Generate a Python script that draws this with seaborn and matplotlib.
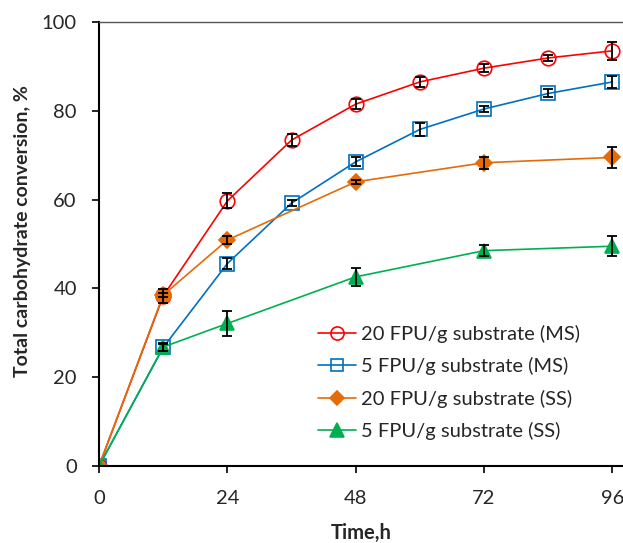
import matplotlib
matplotlib.use("Agg")
import matplotlib.pyplot as plt
import seaborn as sns
import pandas as pd
import numpy as np

sns.set_theme(style="ticks")
plt.rcParams['font.family'] = ['Lato', 'DejaVu Sans']

# Data
t_ms = [0, 12, 24, 36, 48, 60, 72, 84, 96]
ms20 = [0, 38.3, 59.7, 73.4, 81.5, 86.5, 89.6, 91.9, 93.5]
ms20_err = [0, 1.6, 1.7, 1.3, 1.2, 1.2, 0.9, 0.75, 2.0]
ms5 = [0, 26.7, 45.6, 59.2, 68.5, 75.8, 80.4, 83.9, 86.5]
ms5_err = [0, 0.8, 1.2, 0.6, 1.0, 1.5, 0.6, 0.9, 1.3]
t_ss = [0, 12, 24, 48, 72, 96]
ss20 = [0, 38.5, 50.9, 64.0, 68.3, 69.5]
ss20_err = [0, 0.5, 1.0, 0.5, 1.3, 2.3]
ss5 = [0, 26.8, 32.1, 42.6, 48.5, 49.5]
ss5_err = [0, 0.8, 2.8, 2.1, 1.3, 2.3]

labels = ["20 FPU/g substrate (MS)", "5 FPU/g substrate (MS)",
          "20 FPU/g substrate (SS)", "5 FPU/g substrate (SS)"]
x_ticks = [0, 24, 48, 72, 96]
y_ticks = [0, 20, 40, 60, 80, 100]

series = [
    (t_ms, ms20, ms20_err, labels[0], "#FF0000", "o", "none", 10.5),
    (t_ms, ms5, ms5_err, labels[1], "#0070C0", "s", "none", 10),
    (t_ss, ss20, ss20_err, labels[2], "#E36C09", "D", "#E36C09", 8.5),
    (t_ss, ss5, ss5_err, labels[3], "#00B050", "^", "#00B050", 10.5),
]
legend_ms = [9.5, 9, 7.5, 10]

fig = plt.figure(figsize=(6.23, 5.43), dpi=100)
ax = fig.add_axes([0.159, 0.1418, 0.841, 0.8177])

for i, (t, y, e, lab, col, mk, fc, ms) in enumerate(series):
    df = pd.DataFrame({"t": t, "y": y})
    sns.lineplot(data=df, x="t", y="y", ax=ax, color=col, lw=1.2,
                 marker=mk, markersize=ms, markerfacecolor=fc,
                 markeredgecolor=col, markeredgewidth=1.2, label=lab,
                 zorder=3 + i)
    if i == 2:
        # the 12 h point of this series appears as a round marker
        ax.plot(t[1], y[1], marker="o", markersize=11, color=col,
                markeredgecolor=col, zorder=3 + i + 0.5)
for i, (t, y, e, lab, col, mk, fc, ms) in enumerate(series):
    ax.errorbar(t[1:], y[1:], yerr=e[1:], fmt="none", ecolor="black",
                elinewidth=1.3, capsize=3.5, capthick=1.3, zorder=10)

ax.set_xlim(0, 98)
ax.set_ylim(0, 100)
ax.set_xticks(x_ticks)
ax.set_yticks(y_ticks)
ax.tick_params(axis="both", labelsize=14.5, length=5, width=1.2, color="black",
               direction="out", pad=11)
ax.tick_params(axis="x", pad=12)
ax.spines["right"].set_visible(False)
ax.spines["top"].set_color("#555555")
ax.spines["top"].set_linewidth(1.0)
ax.spines["left"].set_linewidth(1.5)
ax.spines["bottom"].set_linewidth(1.5)
ax.spines["left"].set_color("black")
ax.spines["bottom"].set_color("black")
ax.set_xlabel("Time,h", fontsize=14.5, fontweight="bold", labelpad=12)
ax.set_ylabel("Total carbohydrate conversion, %", fontsize=14,
              fontweight="bold")
ax.yaxis.set_label_coords(-0.13, 0.53)
for sp in ax.spines.values():
    sp.set_zorder(20)

leg = ax.legend(loc="center left", bbox_to_anchor=(0.51, 0.2956),
                bbox_transform=fig.transFigure, frameon=False,
                fontsize=14.5, handlelength=1.9, handletextpad=0.25,
                labelspacing=0.72, borderaxespad=0, borderpad=0)
for h, m in zip(leg.legend_handles, legend_ms):
    h.set_markersize(m)

fig.savefig("out.png", dpi=100)
